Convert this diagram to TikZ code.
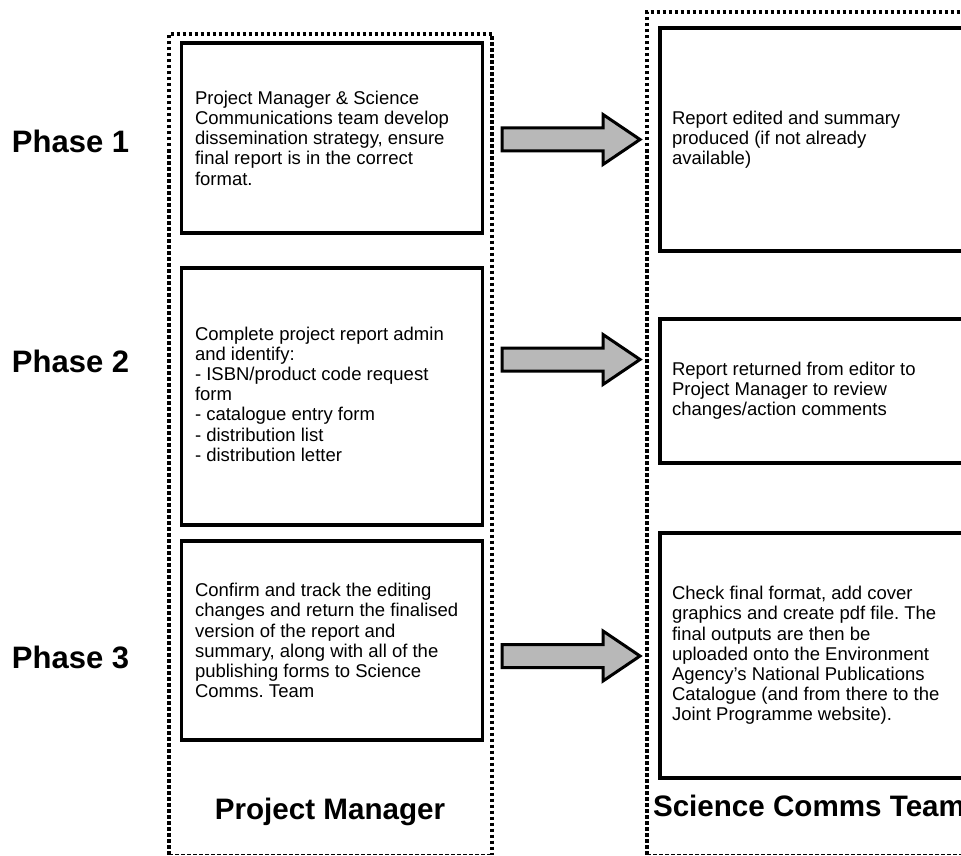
\documentclass[tikz,border=0pt]{standalone}
\usepackage{fontspec}
\setmainfont{Liberation Sans}
\frenchspacing
\begin{document}
\begin{tikzpicture}[x=1pt,y=-1pt,
  every node/.style={inner sep=0pt, outer sep=0pt},
  container/.style={line width=3.5pt, dash pattern=on 3.5pt off 2.5pt},
  bottomline/.style={line width=1pt, dash pattern=on 4pt off 2pt},
  stagebox/.style={draw, line width=3.8pt, rectangle},
  bodytext/.style={align=left, anchor=west, font=\fontsize{18.5}{20.2}\selectfont},
  phaselabel/.style={anchor=west, font=\fontsize{31}{36}\selectfont\bfseries},
  rolelabel/.style={font=\fontsize{29.6}{34}\selectfont\bfseries},
  blockarrow/.style={draw, line width=3pt, fill=black!28, line join=miter},
]
\useasboundingbox (0,0) rectangle (961,856);
\clip (0,0) rectangle (961,856);

% containers
\draw[container] (169,854.5) -- (169,34) -- (492,34) -- (492,854.5);
\draw[bottomline] (169,854.5) -- (492,854.5);
\draw[container] (647,854.5) -- (647,12) -- (1000,12);
\draw[bottomline] (647,854.5) -- (1000,854.5);

% left boxes
\node[stagebox, minimum width=301, minimum height=190] (pm1) at (332,138) {};
\node[stagebox, minimum width=301, minimum height=257] (pm2) at (332,396.5) {};
\node[stagebox, minimum width=301, minimum height=199] (pm3) at (332,640.5) {};

% right boxes
\node[stagebox, minimum width=400, minimum height=223] (sc1) at (860,139.5) {};
\node[stagebox, minimum width=400, minimum height=144] (sc2) at (860,391) {};
\node[stagebox, minimum width=400, minimum height=245] (sc3) at (860,655.5) {};

% texts
\node[bodytext] (t1) at (195,138) {Project Manager \& Science\\Communications team develop\\dissemination strategy, ensure\\final report is in the correct\\format.};
\node[bodytext] (t2) at (195,394) {Complete project report admin\\and identify:\\- ISBN/product code request\\form\\- catalogue entry form\\- distribution list\\- distribution letter};
\node[bodytext] (t3) at (195,640.5) {Confirm and track the editing\\changes and return the finalised\\version of the report and\\summary, along with all of the\\publishing forms to Science\\Comms. Team};
\node[bodytext] (t4) at (672,140) {Report edited and summary\\produced (if not already\\available)};
\node[bodytext] (t5) at (672,391) {Report returned from editor to\\Project Manager to review\\changes/action comments};
\node[bodytext] (t6) at (672,655.5) {Check final format, add cover\\graphics and create pdf file. The\\final outputs are then be\\uploaded onto the Environment\\Agency's National Publications\\Catalogue (and from there to the\\Joint Programme website).};

% phase labels
\node[phaselabel] (p1) at (12,141) {Phase 1};
\node[phaselabel] (p2) at (12,361) {Phase 2};
\node[phaselabel] (p3) at (12,657) {Phase 3};

% role labels
\node[rolelabel] (r1) at (330,812) {Project Manager};
\node[rolelabel, anchor=west] (r2) at (653,806) {Science Comms Team};

% block arrows
\coordinate (a1) at (502,139.5);
\coordinate (a2) at (502,359.5);
\coordinate (a3) at (502,656);
\foreach \c in {a1,a2,a3}{
  \draw[blockarrow] (\c) ++(0,-11.5) -- ++(101,0) -- ++(0,-13.5) -- ++(37,25) -- ++(-37,25) -- ++(0,-13.5) -- ++(-101,0) -- cycle;
}
\end{tikzpicture}
\end{document}
